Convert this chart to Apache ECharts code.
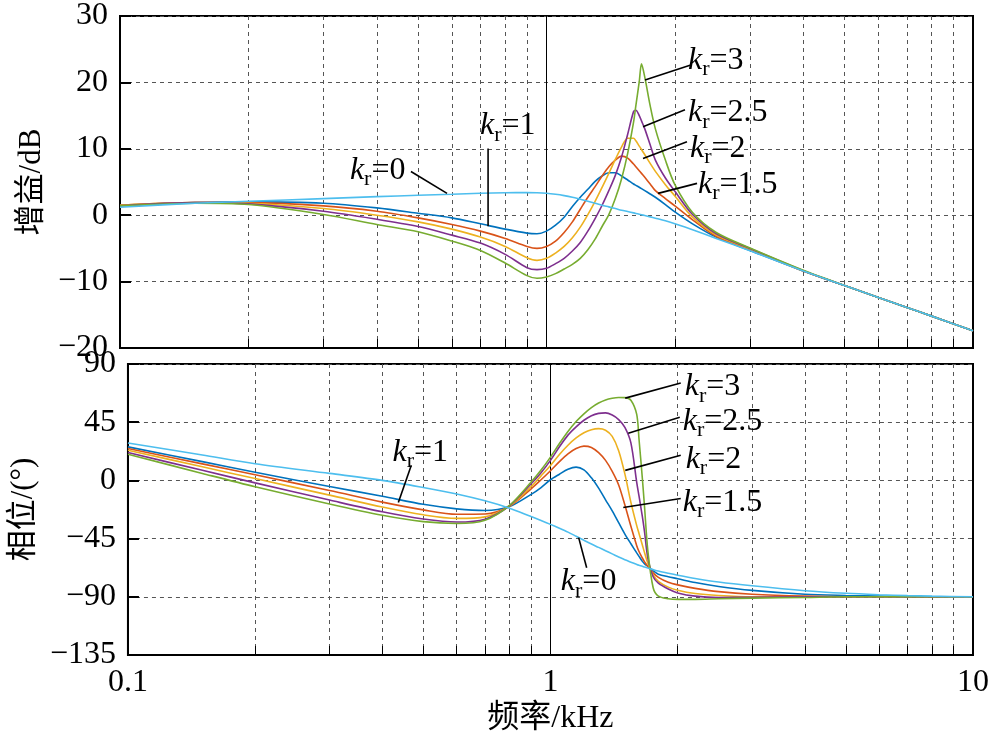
<!DOCTYPE html>
<html><head><meta charset="utf-8">
<script src="https://cdn.jsdelivr.net/npm/echarts@6/dist/echarts.min.js"></script>
<style>html,body{margin:0;padding:0;background:#fff}#c{width:1001px;height:748px}</style>
</head><body><div id="c"></div>
<script>
// frequency (kHz)
const freq = [0.1,0.15,0.2,0.3,0.4,0.5,0.6,0.7,0.8,0.9,0.95,1.0,1.05,1.1,1.15,1.2,1.25,1.3,1.35,1.4,1.45,1.5,1.55,1.6,1.62,1.65,1.67,1.7,1.75,1.8,1.9,2.0,2.2,2.5,3,4,5,6,7,8,10];

// gain (dB)
const gainK0  = [1.2,1.8,2.1,2.5,2.8,3.0,3.15,3.3,3.38,3.4,3.38,3.3,3.15,2.95,2.7,2.4,2.1,1.8,1.5,1.25,1.0,0.75,0.55,0.35,0.27,0.15,0.07,-0.05,-0.25,-0.45,-0.85,-1.3,-2.2,-3.5,-5.35,-8.4,-10.6,-12.4,-13.9,-15.2,-17.4];
const gainK1  = [1.5,1.9,2.0,1.8,1.1,0.3,-0.4,-1.3,-2.1,-2.7,-2.8,-2.4,-1.5,-0.3,1.3,2.7,3.9,5.1,5.9,6.4,6.4,5.9,5.3,4.7,4.5,4.2,4.0,3.7,3.2,2.7,1.6,0.5,-1.3,-3.3,-5.3,-8.4,-10.6,-12.4,-13.9,-15.2,-17.4];
const gainK15 = [1.5,1.9,1.9,1.4,0.6,-0.4,-1.4,-2.4,-3.5,-4.7,-5.0,-4.7,-3.9,-2.6,-1.0,0.9,2.7,4.3,5.9,7.3,8.3,8.9,8.6,7.7,7.3,6.7,6.3,5.7,4.7,3.7,2.5,1.4,-0.7,-3.2,-5.2,-8.4,-10.6,-12.4,-13.9,-15.2,-17.4];
const gainK2  = [1.5,1.9,1.8,1.0,0.0,-1.0,-2.1,-3.3,-4.7,-6.4,-6.8,-6.5,-5.7,-4.7,-3.4,-1.8,0.1,2.1,4.2,6.3,8.4,10.3,11.6,11.6,11.2,10.4,9.9,9.1,7.8,6.6,4.6,2.9,-0.3,-3.0,-5.1,-8.4,-10.6,-12.4,-13.9,-15.2,-17.4];
const gainK25 = [1.4,1.9,1.7,0.6,-0.6,-1.7,-3.0,-4.2,-5.9,-7.9,-8.2,-8.0,-7.3,-6.5,-5.4,-4.1,-2.4,-0.5,1.5,3.7,6.0,8.8,12.2,15.6,15.8,15.0,14.2,13.0,10.6,8.3,5.6,3.6,0.1,-2.8,-5.0,-8.35,-10.6,-12.4,-13.9,-15.2,-17.4];
const gainK3  = [1.4,1.8,1.6,0.1,-1.4,-2.5,-3.9,-5.3,-7.2,-9.1,-9.5,-9.3,-8.8,-8.1,-7.4,-6.5,-5.2,-3.6,-1.7,0.1,2.5,5.5,9.3,14.0,16.5,20.1,22.8,20.8,16.5,13.0,8.3,4.6,0.4,-2.6,-4.95,-8.3,-10.6,-12.4,-13.9,-15.2,-17.4];

// phase (deg)
const phaseK0  = [28.9,19.6,12.9,5.4,0.0,-5.5,-10.5,-15.8,-21.5,-28.0,-31.0,-34.0,-37.0,-40.0,-43.2,-46.3,-49.2,-51.8,-54.4,-56.8,-59.2,-61.3,-63.3,-65.0,-65.6,-66.4,-67.0,-67.8,-69.0,-70.1,-71.8,-73.3,-75.8,-78.6,-81.5,-85.3,-87.3,-88.4,-89.1,-89.5,-90.0];
const phaseK1  = [25.9,14.5,6.3,-4.7,-12.3,-18.5,-22.0,-23.3,-20.2,-10.8,-5.5,0.5,4.8,8.6,10.3,8.2,2.0,-6.0,-15.0,-23.5,-32.7,-41.5,-49.0,-56.0,-58.7,-62.6,-64.5,-66.5,-70.0,-72.5,-74.5,-76.0,-79.0,-82.0,-85.0,-88.0,-89.0,-89.5,-90.0,-90.0,-90.0];
const phaseK15 = [24.6,12.8,4.3,-7.8,-16.8,-22.8,-26.2,-26.0,-20.0,-6.5,0.5,7.5,14.5,20.5,24.6,26.5,25.5,21.5,15.5,7.0,-3.5,-19.0,-35.5,-50.5,-55.0,-60.0,-63.0,-66.3,-71.5,-75.0,-78.8,-80.8,-83.5,-86.0,-88.0,-89.5,-90.0,-90.0,-90.0,-90.0,-90.0];
const phaseK2  = [23.3,10.5,1.4,-11.4,-20.6,-26.6,-29.4,-28.2,-19.8,-4.7,3.5,11.5,20.0,27.2,32.8,36.8,39.2,40.0,38.8,34.0,23.0,5.0,-17.0,-35.0,-41.0,-50.0,-56.0,-64.0,-73.0,-78.0,-82.5,-85.0,-87.5,-89.0,-90.0,-90.0,-90.0,-90.0,-90.0,-90.0,-90.0];
const phaseK25 = [21.5,7.8,-1.9,-15.2,-24.3,-29.9,-32.2,-30.0,-19.6,-2.6,6.0,15.5,26.0,35.0,41.4,46.5,50.0,51.8,52.2,50.5,47.0,41.0,29.0,-1.5,-12.0,-28.0,-40.0,-60.0,-74.5,-79.5,-84.0,-87.0,-89.5,-90.5,-90.3,-90.0,-90.0,-90.0,-90.0,-90.0,-90.0];
const phaseK3  = [20.2,5.4,-4.9,-18.3,-27.0,-31.9,-33.3,-30.8,-19.3,-1.3,8.0,18.0,28.5,37.8,45.5,51.5,56.3,59.8,62.2,63.5,64.1,64.0,62.0,51.0,32.0,1.5,-21.0,-54.5,-83.0,-89.5,-91.5,-92.0,-92.0,-91.5,-91.0,-90.5,-90.0,-90.0,-90.0,-90.0,-90.0];

const curveLabels = ['1','1.5','2','2.5','3','0'];
const gainSets  = [gainK1, gainK15, gainK2, gainK25, gainK3, gainK0];
const phaseSets = [phaseK1, phaseK15, phaseK2, phaseK25, phaseK3, phaseK0];
const colors = ['#0072BD','#D95319','#EDB120','#7E2F8E','#77AC30','#4DBEEE'];

const gainTicks  = [-20, 30, 10];
const phaseTicks = [-135, 90, 45];
const xTickLabels = ['0.1','1','10'];

// annotations: label, text anchor [f,v], leader tail [f,v], leader tip [f,v]
const gainNotes = [
  ['0',   [0.346, 6.74], [0.481, 6.59], [0.5845, 3.29]],
  ['1',   [0.6985,13.47],[0.7295,10.03],[0.7295,-1.65]],
  ['3',   [2.147, 23.35],[2.170, 22.6], [1.702, 20.36]],
  ['2.5', [2.147, 15.42],[2.112, 15.87],[1.684, 13.32]],
  ['2',   [2.170, 10.03],[2.135, 11.08],[1.684, 8.53]],
  ['1.5', [2.266, 4.64], [2.254, 4.79], [1.826, 3.29]]
];
const phaseNotes = [
  ['1',   [0.4227, 21.72],[0.4684, 11.64],[0.4365,-17.07]],
  ['0',   [1.058, -78.36],[1.218, -67.49],[1.166, -44.22]],
  ['3',   [2.078, 72.15], [2.034, 75.25], [1.503, 63.62]],
  ['2.5', [2.056, 45.77], [2.023, 48.88], [1.528, 36.46]],
  ['2',   [2.089, 16.29], [2.034, 19.39], [1.503, 7.76]],
  ['1.5', [2.056, -17.07],[2.034, -13.96],[1.487, -20.95]]
];

const SERIF = "'Liberation Serif','Times New Roman',serif";
const NAMEFONT = "'Liberation Serif','Noto Sans CJK SC',serif";
const minus = v => String(v).replace('-', '\u2212');
const gridDash = {type:[4,4], color:'#555', width:1};

function xAxisCfg(gi, showLabels, name) {
  return {
    type:'log', logBase:10, min:0.1, max:10, gridIndex:gi,
    axisLine:{show:true, onZero:false, lineStyle:{color:'#000', width:2}},
    axisTick:{show:true, inside:true, length:9, lineStyle:{color:'#000', width:1}},
    minorTick:{show:true, splitNumber:9, length:9, lineStyle:{color:'#000', width:1}},
    splitLine:{show:true, lineStyle:{color:'#000', width:1, type:'solid'}},
    minorSplitLine:{show:true, lineStyle:gridDash},
    axisLabel:{show:showLabels, margin:12, fontFamily:SERIF, fontSize:32, color:'#000',
      formatter: v => { const i = [0.1,1,10].findIndex(t => Math.abs(t - v) < 1e-9); return i >= 0 ? xTickLabels[i] : ''; }},
    name: name, nameLocation:'middle', nameGap:48,
    nameTextStyle:{fontFamily:NAMEFONT, fontSize:32, color:'#000'}
  };
}
function yAxisCfg(gi, t, name) {
  return {
    type:'value', gridIndex:gi, min:t[0], max:t[1], interval:t[2],
    axisLine:{show:true, onZero:false, lineStyle:{color:'#000', width:2}},
    axisTick:{show:true, inside:true, length:11, lineStyle:{color:'#000', width:2}},
    splitLine:{show:true, lineStyle:gridDash},
    axisLabel:{margin:12, fontFamily:SERIF, fontSize:32, color:'#000', formatter:minus, showMinLabel:true, showMaxLabel:true},
    name:name, nameLocation:'middle', nameGap:72,
    nameTextStyle:{fontFamily:NAMEFONT, fontSize:31, color:'#000'}
  };
}

const series = [];
gainSets.forEach((arr, i) => series.push({
  type:'line', xAxisIndex:0, yAxisIndex:0, name:'g'+curveLabels[i],
  data: freq.map((f, j) => [f, arr[j]]), showSymbol:false, smooth:0.3,
  lineStyle:{color:colors[i], width:1.6}, itemStyle:{color:colors[i]}, silent:true, animation:false
}));
phaseSets.forEach((arr, i) => series.push({
  type:'line', xAxisIndex:1, yAxisIndex:1, name:'p'+curveLabels[i],
  data: freq.map((f, j) => [f, arr[j]]), showSymbol:false, smooth:0.3,
  lineStyle:{color:colors[i], width:1.6}, itemStyle:{color:colors[i]}, silent:true, animation:false
}));

const chart = echarts.init(document.getElementById('c'), null, {renderer:'canvas'});
chart.setOption({
  animation:false,
  backgroundColor:'#fff',
  grid:[
    {left:120, top:14, width:853, height:334, show:true, borderColor:'#000', borderWidth:2, containLabel:false},
    {left:120, top:364, width:853, height:291, show:true, borderColor:'#000', borderWidth:2, containLabel:false}
  ],
  xAxis:[xAxisCfg(0, false, ''), xAxisCfg(1, true, '频率/kHz')],
  yAxis:[yAxisCfg(0, gainTicks, '增益/dB'), yAxisCfg(1, phaseTicks, '相位/(°)')],
  series: series
});

function notes(list, gi) {
  const els = [];
  list.forEach(n => {
    const t = chart.convertToPixel({gridIndex:gi}, n[1]);
    const a = chart.convertToPixel({gridIndex:gi}, n[2]);
    const b = chart.convertToPixel({gridIndex:gi}, n[3]);
    els.push({type:'line', silent:true, z:100, shape:{x1:a[0], y1:a[1], x2:b[0], y2:b[1]}, style:{stroke:'#000', lineWidth:1.6}});
    els.push({type:'text', silent:true, z:100, style:{
      x:t[0], y:t[1], text:'{k|k}{r|r}{n|=' + n[0] + '}', align:'left', verticalAlign:'middle', fill:'#000',
      rich:{
        k:{fontFamily:SERIF, fontStyle:'italic', fontSize:32, lineHeight:40, fill:'#000'},
        r:{fontFamily:SERIF, fontSize:22, lineHeight:18, verticalAlign:'bottom', fill:'#000'},
        n:{fontFamily:SERIF, fontSize:32, lineHeight:40, fill:'#000'}
      }}});
  });
  return els;
}
chart.setOption({graphic: notes(gainNotes, 0).concat(notes(phaseNotes, 1))});
</script></body></html>
